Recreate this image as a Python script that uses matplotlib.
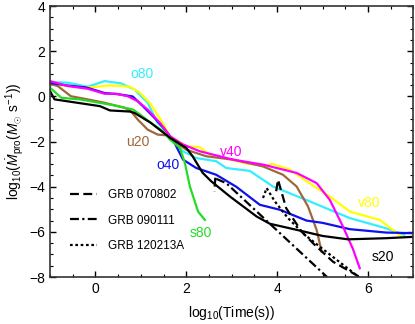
import numpy as np
import matplotlib
matplotlib.use("Agg")
import matplotlib.pyplot as plt
from matplotlib.ticker import MultipleLocator

plt.rcParams['font.family'] = ['Liberation Sans', 'DejaVu Sans']
plt.rcParams['mathtext.fontset'] = 'custom'
plt.rcParams['mathtext.rm'] = 'Liberation Sans'
plt.rcParams['mathtext.it'] = 'Liberation Sans:italic'

# model curves, log10(time) vs log10(Mdot)
x_s20 = [-1, -0.9, -0.5, 0.1, 0.32, 0.76, 0.86, 1.22, 1.64, 2.0, 2.14, 2.36, 2.55, 2.96, 3.55, 3.84, 4.43, 5.0, 5.56, 6.4, 7.0]
y_s20 = [0.24, -0.13, -0.25, -0.43, -0.62, -0.67, -0.73, -1.17, -1.83, -2.28, -2.65, -3.38, -3.76, -4.43, -5.32, -5.64, -5.91, -6.18, -6.33, -6.28, -6.22]

x_o40 = [-1, -0.6, -0.2, 0.2, 0.5, 0.82, 1.05, 1.3, 1.5, 1.7, 1.93, 2.22, 2.66, 3.1, 3.62, 4.06, 4.65, 5.0, 5.6, 6.4, 7.0]
y_o40 = [0.6, 0.48, 0.4, 0.15, 0.1, 0.0, -0.44, -0.95, -1.4, -1.9, -2.8, -3.17, -3.47, -4.0, -4.8, -5.02, -5.5, -5.6, -5.88, -6.03, -6.06]

x_o80 = [-1, -0.61, -0.17, 0.2, 0.56, 0.86, 1.15, 1.37, 1.56, 1.64, 1.93, 2.22, 2.66, 2.88, 3.4, 3.91, 4.72, 5.6, 6.4, 6.8]
y_o80 = [0.64, 0.61, 0.43, 0.68, 0.58, 0.31, -0.28, -1.17, -1.54, -1.84, -2.43, -2.73, -2.87, -3.17, -3.3, -3.99, -4.65, -5.39, -5.84, -6.13]

x_v80 = [-1, -0.5, -0.12, 0.32, 0.76, 0.98, 1.2, 1.49, 1.64, 2.0, 2.3, 2.52, 2.88, 3.4, 3.77, 3.88, 4.28, 4.76, 5.16, 5.6, 6.26, 6.74]
y_v80 = [0.53, 0.45, 0.4, 0.49, 0.43, 0.16, -0.3, -1.2, -1.76, -2.2, -2.25, -2.58, -2.75, -3.0, -3.07, -2.98, -3.24, -3.91, -4.43, -5.1, -5.47, -6.21]

x_v40 = [-1, -0.61, -0.17, 0.2, 0.45, 0.71, 0.93, 1.15, 1.45, 1.64, 1.93, 2.3, 3.03, 3.69, 4.43, 4.87, 5.16, 5.45, 5.67, 5.82]
y_v40 = [0.68, 0.46, 0.34, 0.12, 0.12, 0.01, -0.21, -0.58, -1.24, -1.76, -2.13, -2.43, -2.8, -3.02, -3.39, -3.84, -4.58, -5.76, -6.76, -7.61]

x_u20 = [-1, -0.83, -0.54, -0.17, 0.2, 0.64, 0.78, 0.93, 1.15, 1.37, 1.56, 2.0, 2.44, 3.03, 3.69, 4.13, 4.43, 4.68, 4.87, 4.98]
y_u20 = [0.56, 0.46, 0.01, -0.13, -0.28, -0.5, -0.65, -1.02, -1.47, -1.69, -1.72, -2.36, -2.65, -2.8, -3.1, -3.47, -3.99, -4.87, -5.91, -6.87]

x_s80 = [-1, -0.75, -0.35, 0.32, 0.83, 0.98, 1.27, 1.49, 1.64, 1.86, 1.97, 2.08, 2.26, 2.41]
y_s80 = [0.39, -0.06, -0.13, -0.36, -0.58, -0.8, -1.24, -1.54, -1.91, -2.28, -2.95, -3.99, -5.1, -5.47]

# GRB data
x_070802 = [2.64, 2.62, np.nan, 3.98, 4.02, 4.2, 4.54, 4.83, 5.23, 5.82]
y_070802 = [-3.6, -4.2, np.nan, -4.2, -3.69, -4.95, -5.99, -6.58, -7.32, -8.0]
x_090111 = [2.66, 2.88, 5.1]
y_090111 = [-3.65, -3.84, -8.0]
x_120213 = [3.69, 3.77, 3.95, 4.24, 4.61, 4.98, 5.8]
y_120213 = [-4.5, -4.06, -4.65, -5.39, -6.13, -6.72, -8.0]

c_cyan = '#33eeff'
c_yel = '#ffff00'
c_mag = '#ff00ff'
c_blue = '#1010ee'
c_green = '#22dd22'
c_brown = '#a0673a'

fig = plt.figure(figsize=(4.15, 3.24), dpi=100)
ax = fig.add_axes([0.1205, 0.145, 0.8755, 0.836])

lw = 1.6
ax.plot(x_o80, y_o80, color=c_cyan, lw=lw)
ax.plot(x_v80, y_v80, color=c_yel, lw=lw)
ax.plot(x_u20, y_u20, color=c_brown, lw=lw)
ax.plot(x_o40, y_o40, color=c_blue, lw=lw)
ax.plot(x_v40, y_v40, color=c_mag, lw=lw)
ax.plot(x_s80, y_s80, color=c_green, lw=lw)
ax.plot(x_s20, y_s20, color='black', lw=lw)

l1, = ax.plot(x_070802, y_070802, color='black', lw=1.6, ls=(0, (4, 2)))
l2, = ax.plot(x_090111, y_090111, color='black', lw=1.6, ls=(0, (4, 1.5, 1, 1.5)))
l3, = ax.plot(x_120213, y_120213, color='black', lw=1.6, ls=(0, (1.2, 1.2)))

ax.legend([l1, l2, l3], ['GRB 070802', 'GRB 090111', 'GRB 120213A'],
          loc='upper left', bbox_to_anchor=(0.055, 0.325), frameon=False,
          fontsize=8.5, handlelength=2.3, handletextpad=0.9, labelspacing=1.15,
          borderpad=0, borderaxespad=0)

fs = 10
ax.text(1.02, 0.98, 'o80', color=c_cyan, fontsize=fs, ha='center', va='center')
ax.text(0.93, -2.04, 'u20', color=c_brown, fontsize=fs, ha='center', va='center')
ax.text(1.6, -3.02, 'o40', color=c_blue, fontsize=fs, ha='center', va='center')
ax.text(3.0, -2.44, 'v40', color=c_mag, fontsize=fs, ha='center', va='center')
ax.text(2.33, -6.04, 's80', color=c_green, fontsize=fs, ha='center', va='center')
ax.text(6.02, -4.71, 'v80', color=c_yel, fontsize=fs, ha='center', va='center')
ax.text(6.32, -7.11, 's20', color='black', fontsize=fs, ha='center', va='center')

ax.set_xlim(-1, 7)
ax.set_ylim(-8, 4)
ax.set_xticks([0, 2, 4, 6])
ax.set_yticks([-8, -6, -4, -2, 0, 2, 4])
ax.xaxis.set_minor_locator(MultipleLocator(0.5))
ax.yaxis.set_minor_locator(MultipleLocator(0.5))
ax.tick_params(which='both', direction='in', top=True, right=True, labelsize=10)
ax.tick_params(which='major', length=4.5, width=1)
ax.tick_params(which='minor', length=2.5, width=0.8)
for s in ax.spines.values():
    s.set_linewidth(1.2)
    s.set_color('#333333')

ax.set_xlabel('log$_{10}$(Time(s))', fontsize=10, labelpad=6)
ax.set_ylabel(r'log$_{10}$($\dot{M}_{\rm pro}$($M_{\odot}$ s$^{-1}$))', fontsize=10, labelpad=2)

fig.savefig('out.png', dpi=100)
